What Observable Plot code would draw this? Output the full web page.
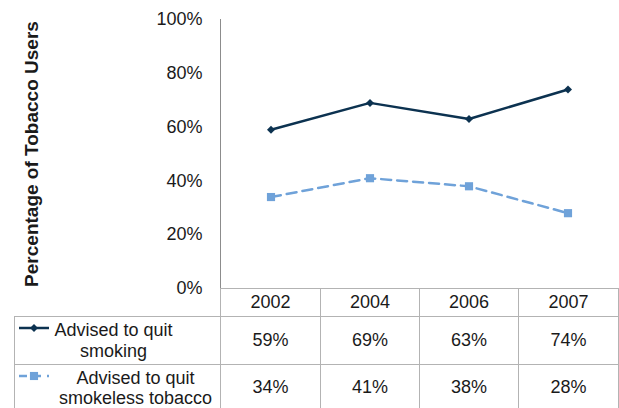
<!DOCTYPE html>
<html><head><meta charset="utf-8">
<script src="https://cdn.jsdelivr.net/npm/d3@7"></script>
<script src="https://cdn.jsdelivr.net/npm/@observablehq/plot@0.6"></script>
<style>
body{margin:0;background:#fff;font-family:"Liberation Sans",Arial,sans-serif;}
#wrap{position:relative;width:619px;height:408px;overflow:hidden;background:#fff;}
#chart svg{position:absolute;left:0;top:0;overflow:visible;}
[aria-label="y-axis label"]{font-weight:bold;font-size:19px;}
table{position:absolute;left:14px;top:288px;border-collapse:collapse;font-size:18px;color:#1a1a1a;table-layout:fixed;}
td{border:1px solid #b3b3b3;text-align:center;padding:0;}
td.lab{position:relative;}
td.lab svg{position:absolute;left:3px;}
td.lab div{line-height:21px;}
</style></head>
<body><div id="wrap"><div id="chart"></div><table id="tbl"></table></div>
<script>
const years = ["2002","2004","2006","2007"];
const seriesNames = ["Advised to quit smoking","Advised to quit smokeless tobacco"];
const labelLines = [["Advised to quit","smoking"],["Advised to quit","smokeless tobacco"]];
const smoking = [0.59,0.69,0.63,0.74];
const smokeless = [0.34,0.41,0.38,0.28];
const yTicks = [0,0.2,0.4,0.6,0.8,1];

const colors = ["#0c3250","#6fa2d9"];
const values = [smoking, smokeless];
const rows = [];
seriesNames.forEach((s,i)=>years.forEach((y,j)=>rows.push({series:s, year:y, value:values[i][j]})));

const chart = Plot.plot({
  width: 619, height: 290,
  marginLeft: 220, marginRight: 1, marginTop: 19, marginBottom: 2,
  style: {fontFamily: '"Liberation Sans", Arial, sans-serif', fontSize: "18px", color: "#1a1a1a", background: "transparent"},
  x: {type: "band", domain: years, padding: 0, axis: null},
  y: {domain: [0,1], ticks: yTicks, tickFormat: d3.format(".0%"), tickSize: 0, tickPadding: 18,
      label: "Percentage of Tobacco Users", labelArrow: "none", labelAnchor: "center", labelOffset: 196},
  marks: [
    Plot.frame({anchor: "left", stroke: "#8c8c8c"}),
    Plot.ruleY([0], {stroke: "#8c8c8c"}),
    Plot.line(rows.filter(d=>d.series===seriesNames[0]), {x:"year", y:"value", stroke: colors[0], strokeWidth: 2.5}),
    Plot.line(rows.filter(d=>d.series===seriesNames[1]), {x:"year", y:"value", stroke: colors[1], strokeWidth: 2.5, strokeDasharray: "10,6"}),
    Plot.dot(rows.filter(d=>d.series===seriesNames[0]), {x:"year", y:"value", fill: colors[0], symbol: "diamond2", r: 3.6, stroke: "none"}),
    Plot.dot(rows.filter(d=>d.series===seriesNames[1]), {x:"year", y:"value", fill: colors[1], symbol: "square", r: 4.6, stroke: "none"})
  ]
});
document.getElementById("chart").appendChild(chart);

// data table below the plot
const tbl = document.getElementById("tbl");
const colW = [206,100,99,99,100];
const cg = document.createElement("colgroup");
colW.forEach(w=>{const c=document.createElement("col"); c.style.width=w+"px"; cg.appendChild(c);});
tbl.appendChild(cg);
const hr = tbl.insertRow();
const h0 = hr.insertCell(); h0.style.border="none";
years.forEach(y=>{const c=hr.insertCell(); c.textContent=y;});
hr.style.height="28px";
const rowH = [48,46];
const textPad = [[0,8],[36,0]];
const iconTop = [4,4];
seriesNames.forEach((s,i)=>{
  const r = tbl.insertRow(); r.style.height=rowH[i]+"px";
  const c = r.insertCell(); c.className="lab";
  const sv = d3.create("svg").attr("width",32).attr("height",14).style("top",iconTop[i]+"px");
  sv.append("line").attr("x1",1).attr("x2",31).attr("y1",7).attr("y2",7).attr("stroke",colors[i]).attr("stroke-width",2.5).attr("stroke-dasharray", i===1?"8,6":null);
  sv.append("path").attr("d", d3.symbol(i===0?d3.symbolDiamond2:d3.symbolSquare, i===0?40:66)()).attr("transform","translate(16,7)").attr("fill",colors[i]);
  c.appendChild(sv.node());
  const dv = document.createElement("div");
  dv.style.paddingLeft=textPad[i][0]+"px"; dv.style.paddingRight=textPad[i][1]+"px";
  dv.innerHTML = labelLines[i].join("<br>");
  if(i===1) dv.style.lineHeight="20px";
  c.appendChild(dv);
  values[i].forEach(v=>{const vc=r.insertCell(); vc.textContent=d3.format(".0%")(v);});
});
</script></body></html>
